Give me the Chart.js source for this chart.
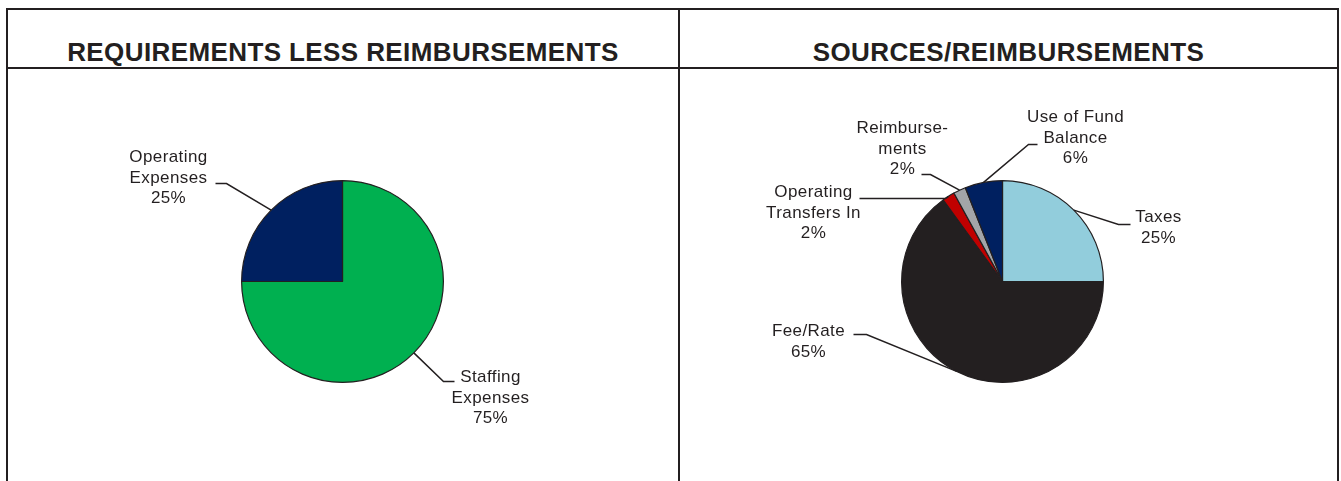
<!DOCTYPE html>
<html>
<head>
<meta charset="utf-8">
<script src="https://cdn.jsdelivr.net/npm/chart.js@4.4.1/dist/chart.umd.min.js"></script>
<style>
  html, body { margin: 0; padding: 0; background: #fff; }
  body { width: 1341px; height: 481px; overflow: hidden; position: relative; }
  #wrap {
    position: absolute; left: 6px; top: 8px; width: 1329px; height: 520px;
    border: 2px solid #231F20; border-bottom: none; display: flex;
  }
  .panel { position: relative; height: 100%; }
  #left { width: 670px; border-right: 2px solid #231F20; }
  #right { width: 657px; }
  .title {
    box-sizing: border-box; height: 59px; padding-top: 29px;
    border-bottom: 2px solid #231F20; text-align: center;
    font: bold 26px "Liberation Sans", Arial, sans-serif; line-height: 26px;
    letter-spacing: 0.4px; color: #231F20; white-space: nowrap;
  }
  .body { position: relative; width: 100%; height: 412px; }
</style>
</head>
<body>
<div id="wrap">
  <div class="panel" id="left">
    <div class="title">REQUIREMENTS LESS REIMBURSEMENTS</div>
    <div class="body"><canvas id="reqChart"></canvas></div>
  </div>
  <div class="panel" id="right">
    <div class="title">SOURCES/REIMBURSEMENTS</div>
    <div class="body"><canvas id="srcChart"></canvas></div>
  </div>
</div>
<script>
(() => {
    "use strict";

    // data
    const reqLabels = ["Staffing Expenses", "Operating Expenses"];
    const reqValues = [75, 25];
    const reqLines = [["Staffing", "Expenses"], ["Operating", "Expenses"]];

    const srcLabels = ["Taxes", "Fee/Rate", "Operating Transfers In", "Reimbursements", "Use of Fund Balance"];
    const srcValues = [25, 65, 2, 2, 6];
    const srcLines = [["Taxes"], ["Fee/Rate"], ["Operating", "Transfers In"], ["Reimburse-", "ments"], ["Use of Fund", "Balance"]];

    const ink = "#231F20";

    // leader layout per slice, relative to pie centre: elbow, end of horizontal run, text centre
    const reqLayout = [
        { ex: 101, ey: 100, hx: 112, tx: 148, ty: 96 },
        { ex: -116, ey: -98, hx: -127, tx: -174, ty: -124 },
    ];
    const srcLayout = [
        { ex: 116, ey: -57, hx: 128, tx: 156, ty: -64 },
        { ex: -136, ey: 53, hx: -149, tx: -194, ty: 50 },
        { ex: -57, ey: -83, hx: -143, tx: -189, ty: -89 },
        { ex: -72, ey: -107, hx: -81, tx: -100, ty: -153 },
        { ex: 26, ey: -137, hx: 35, tx: 73, ty: -164 },
    ];

    const leaderLabels = {
        id: "leaderLabels",
        afterDraw(chart, args, opts) {
            const ctx = chart.ctx;
            const meta = chart.getDatasetMeta(0);
            const values = chart.data.datasets[0].data;
            ctx.save();
            ctx.strokeStyle = ink;
            ctx.lineWidth = 1.5;
            ctx.fillStyle = ink;
            ctx.font = '17px "Liberation Sans", Arial, sans-serif';
            // @ts-ignore
            ctx.letterSpacing = "0.4px";
            ctx.textAlign = "center";
            ctx.textBaseline = "middle";
            meta.data.forEach((arc, i) => {
                const p = arc.getProps(["x", "y", "startAngle", "endAngle", "outerRadius"], true);
                const mid = (p.startAngle + p.endAngle) / 2;
                const sx = p.x + Math.cos(mid) * p.outerRadius;
                const sy = p.y + Math.sin(mid) * p.outerRadius;
                const l = opts.layout[i];
                ctx.beginPath();
                ctx.moveTo(sx, sy);
                ctx.lineTo(p.x + l.ex, p.y + l.ey);
                ctx.lineTo(p.x + l.hx, p.y + l.ey);
                ctx.stroke();
                const lines = opts.lines[i].concat([values[i] + "%"]);
                lines.forEach((t, k) => {
                    ctx.fillText(t, p.x + l.tx, p.y + l.ty + k * 20.5);
                });
            });
            ctx.restore();
        },
    };

    function makePie(id, labels, values, colors, lines, layout, padding) {
        // @ts-ignore
        return new Chart(document.getElementById(id), {
            type: "pie",
            data: {
                labels,
                datasets: [{
                    data: values,
                    backgroundColor: colors,
                    borderColor: ink,
                    borderWidth: 1.2,
                    hoverOffset: 0,
                }],
            },
            options: {
                responsive: true,
                maintainAspectRatio: false,
                animation: false,
                events: [],
                layout: { padding },
                plugins: {
                    legend: { display: false },
                    tooltip: { enabled: false },
                    leaderLabels: { lines, layout },
                },
            },
            plugins: [leaderLabels],
        });
    }

    makePie("reqChart", reqLabels, reqValues, ["#00B050", "#002060"], reqLines, reqLayout,
        { top: 111, bottom: 98, left: 233, right: 234 });
    makePie("srcChart", srcLabels, srcValues, ["#92CDDC", "#231F20", "#C00000", "#A3A5A8", "#002060"], srcLines, srcLayout,
        { top: 111, bottom: 98, left: 221, right: 233 });
})();
</script>
</body>
</html>
